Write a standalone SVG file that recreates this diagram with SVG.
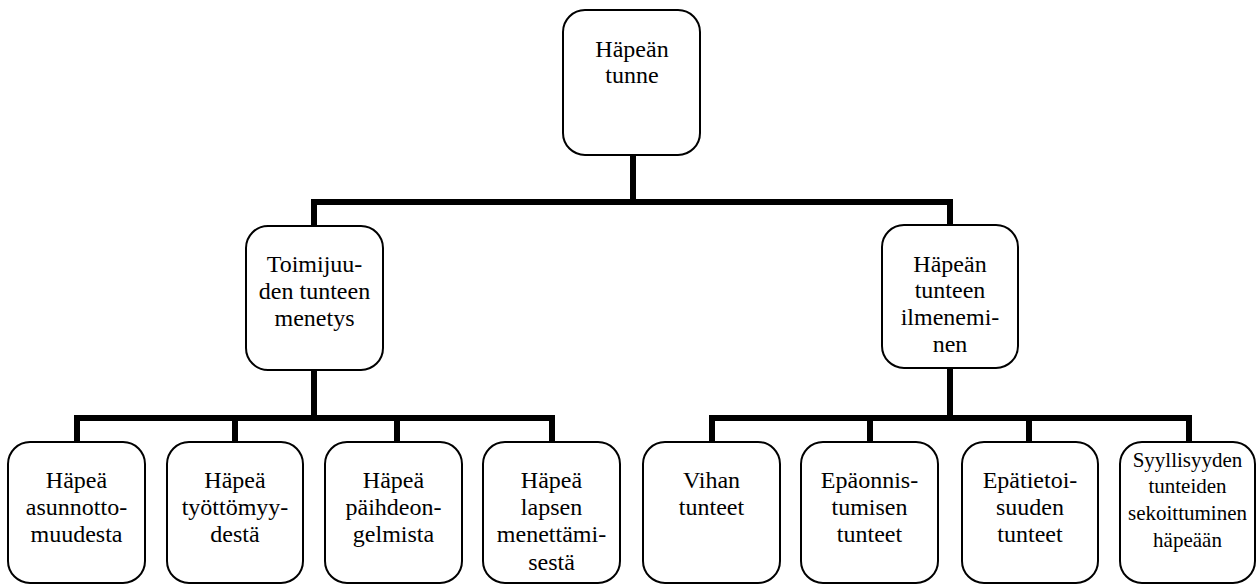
<svg xmlns="http://www.w3.org/2000/svg" width="1257" height="585" viewBox="0 0 1257 585">
<style>
.box{fill:#fff;stroke:#000;stroke-width:2}
.t{font-family:'Liberation Serif','Times New Roman',serif;font-size:24px;fill:#000;text-anchor:middle}
.s{font-size:21px}
.c{fill:none;stroke:#000;stroke-width:6;stroke-linejoin:miter;stroke-linecap:butt}
</style>
<rect width="1257" height="585" fill="#fff"/>
<g id="connectors">
<path class="c" d="M633 155V202M314 228V202H950V225"/>
<path class="c" d="M314 369V418M77 443V418H552V443M235 418V443M397 418V443"/>
<path class="c" d="M950 367V418M712 443V418H1189V443M870 418V443M1029 418V443"/>
</g>
<g id="n-root"><rect class="box" x="563" y="10" width="137" height="145" rx="22"/>
<text class="t" x="632" y="57">Häpeän</text><text class="t" x="632" y="83">tunne</text></g>
<g id="n-toimijuus"><rect class="box" x="246" y="226" width="137" height="144" rx="22"/>
<text class="t" x="314.5" y="272">Toimijuu-</text><text class="t" x="314.5" y="299">den tunteen</text><text class="t" x="314.5" y="326">menetys</text></g>
<g id="n-ilmeneminen"><rect class="box" x="882" y="225" width="136" height="143" rx="22"/>
<text class="t" x="950" y="272">Häpeän</text><text class="t" x="950" y="298">tunteen</text><text class="t" x="950" y="325">ilmenemi-</text><text class="t" x="950" y="352">nen</text></g>
<g id="n-asunnottomuus"><rect class="box" x="8" y="442" width="137" height="141" rx="22"/>
<text class="t" x="76.5" y="488">Häpeä</text><text class="t" x="76.5" y="515">asunnotto-</text><text class="t" x="76.5" y="542">muudesta</text></g>
<g id="n-tyottomyys"><rect class="box" x="167" y="442" width="136" height="141" rx="22"/>
<text class="t" x="235" y="488">Häpeä</text><text class="t" x="235" y="515">työttömyy-</text><text class="t" x="235" y="542">destä</text></g>
<g id="n-paihde"><rect class="box" x="325" y="442" width="137" height="141" rx="22"/>
<text class="t" x="393.5" y="488">Häpeä</text><text class="t" x="393.5" y="515">päihdeon-</text><text class="t" x="393.5" y="542">gelmista</text></g>
<g id="n-lapsi"><rect class="box" x="483" y="442" width="137" height="141" rx="22"/>
<text class="t" x="551.5" y="488">Häpeä</text><text class="t" x="551.5" y="515">lapsen</text><text class="t" x="551.5" y="542">menettämi-</text><text class="t" x="551.5" y="570">sestä</text></g>
<g id="n-viha"><rect class="box" x="643" y="442" width="137" height="141" rx="22"/>
<text class="t" x="711.5" y="488">Vihan</text><text class="t" x="711.5" y="515">tunteet</text></g>
<g id="n-epaonnistuminen"><rect class="box" x="801" y="442" width="137" height="141" rx="22"/>
<text class="t" x="869.5" y="488">Epäonnis-</text><text class="t" x="869.5" y="515">tumisen</text><text class="t" x="869.5" y="542">tunteet</text></g>
<g id="n-epatietoisuus"><rect class="box" x="962" y="442" width="136" height="141" rx="22"/>
<text class="t" x="1030" y="488">Epätietoi-</text><text class="t" x="1030" y="515">suuden</text><text class="t" x="1030" y="542">tunteet</text></g>
<g id="n-syyllisyys"><rect class="box" x="1120" y="442" width="135" height="141" rx="22"/>
<text class="t s" x="1187.5" y="467">Syyllisyyden</text><text class="t s" x="1187.5" y="493">tunteiden</text><text class="t s" x="1187.5" y="520">sekoittuminen</text><text class="t s" x="1187.5" y="547">häpeään</text></g>
</svg>
